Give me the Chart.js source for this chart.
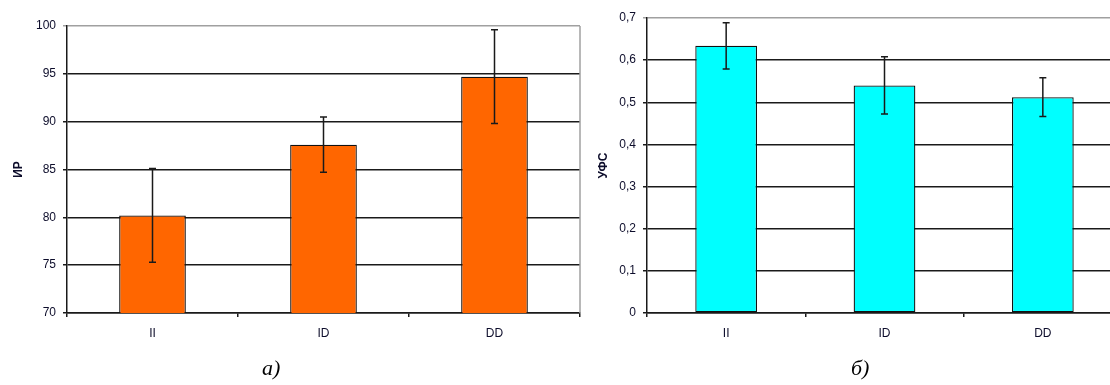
<!DOCTYPE html>
<html>
<head>
<meta charset="utf-8">
<script src="https://cdn.jsdelivr.net/npm/chart.js@4/dist/chart.umd.min.js"></script>
<style>
  html, body { margin: 0; padding: 0; background: #fff; }
  body { width: 1110px; height: 385px; position: relative; overflow: hidden; }
  #graficoIR { position: absolute; left: 0; top: 0; }
  #graficoUFS { position: absolute; left: 585px; top: 0; }
  .legenda { position: absolute; top: 355px; font: italic 22px "Liberation Serif", "Times New Roman", serif; color: #000; }
</style>
</head>
<body>
<canvas id="graficoIR" width="585" height="360"></canvas>
<canvas id="graficoUFS" width="600" height="360"></canvas>
<div class="legenda" style="left:262px">а)</div>
<div class="legenda" style="left:851px">б)</div>
<script>
// Dados

var categorias = ['II', 'ID', 'DD'];

var mediasIR = [80.2, 87.6, 94.7];
var errosIR = [4.9, 2.9, 4.9];
var ticksIR = [70, 75, 80, 85, 90, 95, 100];

var mediasUFS = [0.634, 0.540, 0.512];
var errosUFS = [0.055, 0.068, 0.046];
var ticksUFS = [0, 0.1, 0.2, 0.3, 0.4, 0.5, 0.6, 0.7];

var corTexto = '#0d0d2b';
var corGrade = '#1a1a1a';

// Barras de erro

var pluginErro = {
  id: 'barrasErro',
  afterDatasetsDraw: function (chart) {
    var ctx = chart.ctx;
    var erros = chart.options.plugins.barrasErro.erros;
    var meta = chart.getDatasetMeta(0);
    var y = chart.scales.y;
    ctx.save();
    ctx.strokeStyle = '#1a1a1a';
    ctx.lineWidth = 1.5;
    meta.data.forEach(function (barra, i) {
      var v = chart.data.datasets[0].data[i];
      var topo = y.getPixelForValue(v + erros[i]);
      var base = y.getPixelForValue(v - erros[i]);
      ctx.beginPath();
      ctx.moveTo(barra.x, topo);
      ctx.lineTo(barra.x, base);
      ctx.moveTo(barra.x - 3.5, topo);
      ctx.lineTo(barra.x + 3.5, topo);
      ctx.moveTo(barra.x - 3.5, base);
      ctx.lineTo(barra.x + 3.5, base);
      ctx.stroke();
    });
    ctx.restore();
  },
  afterDraw: function (chart) {
    // moldura cinza do lado direito
    var a = chart.chartArea;
    var ctx = chart.ctx;
    ctx.save();
    ctx.strokeStyle = '#a0a0a0';
    ctx.lineWidth = 1.5;
    ctx.beginPath();
    ctx.moveTo(a.right, a.top);
    ctx.lineTo(a.right, a.bottom);
    ctx.stroke();
    ctx.restore();
  }
};

function criarConfig(medias, erros, ticks, min, max, cor, tituloY, larguraY, padding, tituloPad, formato) {
  return {
    type: 'bar',
    data: {
      labels: categorias,
      datasets: [{
        data: medias,
        backgroundColor: cor,
        borderColor: '#111',
        borderWidth: 1.3,
        borderSkipped: false,
        categoryPercentage: 1,
        barPercentage: 0.39
      }]
    },
    options: {
      responsive: false,
      animation: false,
      devicePixelRatio: 1,
      layout: { padding: padding },
      plugins: {
        legend: { display: false },
        tooltip: { enabled: false },
        barrasErro: { erros: erros }
      },
      scales: {
        x: {
          afterFit: function (s) { s.height = 47; },
          grid: {
            drawOnChartArea: false,
            drawTicks: true,
            tickLength: 4,
            color: corGrade,
            lineWidth: 1.5
          },
          border: { color: corGrade, width: 1.5 },
          ticks: {
            color: corTexto,
            padding: 9,
            font: { size: 12, family: '"Liberation Sans", Arial, sans-serif' }
          }
        },
        y: {
          min: min,
          max: max,
          afterFit: function (s) { s.width = larguraY; },
          afterBuildTicks: function (s) {
            s.ticks = ticks.map(function (v) { return { value: v }; });
          },
          grid: {
            color: function (c) { return c.tick && c.tick.value === max ? '#a0a0a0' : corGrade; },
            lineWidth: 1.5,
            tickLength: 4
          },
          border: { color: corGrade, width: 1.5 },
          title: {
            display: true,
            text: tituloY,
            color: corTexto,
            padding: { top: 11, bottom: 0 },
            font: { size: 12, weight: 'bold', family: '"Liberation Sans", Arial, sans-serif' }
          },
          ticks: {
            color: corTexto,
            padding: 7,
            font: { size: 12, family: '"Liberation Sans", Arial, sans-serif' },
            callback: formato
          }
        }
      }
    },
    plugins: [pluginErro]
  };
}

var ctxIR = document.getElementById('graficoIR').getContext('2d');
var graficoIR = new Chart(ctxIR, criarConfig(
  mediasIR, errosIR, ticksIR, 70, 100, '#ff6600', 'ИР', 67,
  { top: 26, right: 5, left: 0, bottom: 0 }, 11,
  function (v) { return String(v); }
));

var ctxUFS = document.getElementById('graficoUFS').getContext('2d');
var graficoUFS = new Chart(ctxUFS, criarConfig(
  mediasUFS, errosUFS, ticksUFS, 0, 0.7, '#00ffff', 'УФС', 62,
  { top: 18, right: 63, left: 0, bottom: 0 }, 13,
  function (v) { return v === 0 ? '0' : v.toFixed(1).replace('.', ','); }
));
</script>
</body>
</html>
